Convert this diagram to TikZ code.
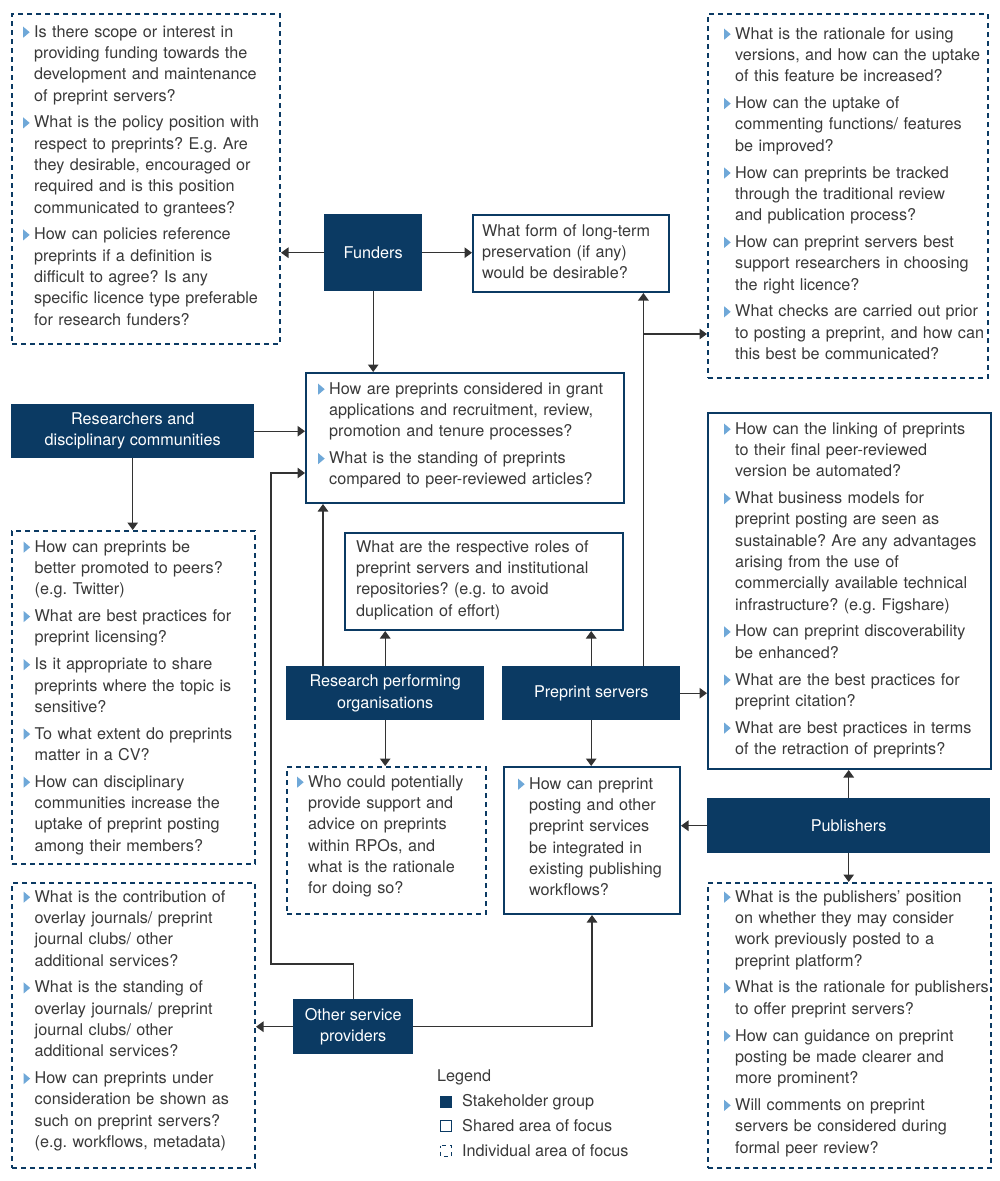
\documentclass[tikz,border=0pt]{standalone}
\usepackage{fontspec}
\setmainfont{TeX Gyre Heros}
\usetikzlibrary{arrows.meta,calc}
\definecolor{navy}{HTML}{0B3A63}
\definecolor{bul}{HTML}{6FA8D8}
\definecolor{txt}{HTML}{3A3A3A}
\definecolor{conn}{HTML}{333333}
\newcommand\qfont{\fontsize{16.2}{21.3}\selectfont\frenchspacing}
\newcommand\bu{\noindent\hspace*{-11pt}\makebox[11pt][l]{\tikz[baseline=0pt]\fill[bul] (0pt,-0.5pt)--(0pt,10.5pt)--(6.5pt,5pt)--cycle;}\rule{0pt}{13pt}}
\newcommand\bj{\par\vspace{5.5pt}\bu}
\tikzset{
  stake/.style={fill=navy, draw=none, text=white, font=\qfont, align=center, inner sep=0pt, anchor=north west},
  sbox/.style={draw=navy, line width=2pt, fill=white, inner sep=0pt, anchor=north west},
  dbox/.style={draw=navy, line width=2pt, dash pattern=on 5pt off 4pt, inner sep=0pt, anchor=north west},
  qt/.style={anchor=north west, inner sep=0pt, text width=330pt, align=left, font=\qfont, text=txt},
  arr/.style={draw=conn, line width=1.3pt, -{Triangle[length=7.5pt,width=10.5pt]}},
}
\begin{document}
\begin{tikzpicture}[x=1pt,y=-1pt]
\useasboundingbox[fill=white] (0,0) rectangle (1000,1181);

% ---------- frames ----------
\node[dbox, minimum width=268, minimum height=330] (fq) at (11,13) {};
\node[dbox, minimum width=280, minimum height=364] (tr) at (707,13) {};
\node[sbox, minimum width=196, minimum height=77] (pres) at (472,214) {};
\node[sbox, minimum width=318, minimum height=130] (grant) at (305,372) {};
\node[dbox, minimum width=243, minimum height=333] (rq) at (11,530) {};
\node[sbox, minimum width=278, minimum height=97] (roles) at (344,532) {};
\node[sbox, minimum width=283, minimum height=356] (link) at (707,412) {};
\node[dbox, minimum width=199, minimum height=147] (rpoq) at (286,766) {};
\node[sbox, minimum width=176, minimum height=147] (integ) at (503,766) {};
\node[dbox, minimum width=283, minimum height=285] (pq) at (707,882) {};
\node[dbox, minimum width=243, minimum height=285] (oq) at (11,882) {};

% ---------- stakeholder groups ----------
\node[stake, minimum width=98, minimum height=77] (fund) at (324,214) {Funders};
\node[stake, minimum width=243, minimum height=54] (res) at (11,404) {Researchers and\\disciplinary communities};
\node[stake, minimum width=198, minimum height=54] (rpo) at (286,666) {Research performing\\organisations};
\node[stake, minimum width=178, minimum height=54] (ps) at (502,666) {Preprint servers};
\node[stake, minimum width=283, minimum height=55] (pub) at (707,798) {Publishers};
\node[stake, minimum width=120, minimum height=55] (osp) at (293,999) {Other service\\providers};

% ---------- texts ----------
\node[qt] (fqt) at (24,24) {\leftskip=10pt
\bu Is there scope or interest in\\ providing funding towards the\\ development and maintenance\\ of preprint servers?
\bj What is the policy position with\\ respect to preprints? E.g. Are\\ they desirable, encouraged or\\ required and is this position\\ communicated to grantees?
\bj How can policies reference\\ preprints if a definition is\\ difficult to agree? Is any\\ specific licence type preferable\\ for research funders?\par};

\node[qt] (trt) at (725,26) {\leftskip=10pt
\bu What is the rationale for using\\ versions, and how can the uptake\\ of this feature be increased?
\bj How can the uptake of\\ commenting functions/ features\\ be improved?
\bj How can preprints be tracked\\ through the traditional review\\ and publication process?
\bj How can preprint servers best\\ support researchers in choosing\\ the right licence?
\bj What checks are carried out prior\\ to posting a preprint, and how can\\ this best be communicated?\par};

\node[qt] (prest) at (482,223) {\rule{0pt}{13pt}What form of long-term\\ preservation (if any)\\ would be desirable?\par};

\node[qt] (grantt) at (319,381) {\leftskip=10pt
\bu How are preprints considered in grant\\ applications and recruitment, review,\\ promotion and tenure processes?
\bj What is the standing of preprints\\ compared to peer-reviewed articles?\par};

\node[qt] (rqt) at (24.5,539) {\leftskip=10pt
\bu How can preprints be\\ better promoted to peers?\\ (e.g. Twitter)
\bj What are best practices for\\ preprint licensing?
\bj Is it appropriate to share\\ preprints where the topic is\\ sensitive?
\bj To what extent do preprints\\ matter in a CV?
\bj How can disciplinary\\ communities increase the\\ uptake of preprint posting\\ among their members?\par};

\node[qt] (rolest) at (356,539) {\rule{0pt}{13pt}What are the respective roles of\\ preprint servers and institutional\\ repositories? (e.g. to avoid\\ duplication of effort)\par};

\node[qt] (linkt) at (725,421) {\leftskip=10pt
\bu How can the linking of preprints\\ to their final peer-reviewed\\ version be automated?
\bj What business models for\\ preprint posting are seen as\\ sustainable? Are any advantages\\ arising from the use of\\ commercially available technical\\ infrastructure? (e.g. Figshare)
\bj How can preprint discoverability\\ be enhanced?
\bj What are the best practices for\\ preprint citation?
\bj What are best practices in terms\\ of the retraction of preprints?\par};

\node[qt] (rpoqt) at (298,774) {\leftskip=10pt
\bu Who could potentially\\ provide support and\\ advice on preprints\\ within RPOs, and\\ what is the rationale\\ for doing so?\par};

\node[qt] (integt) at (519,776) {\leftskip=10pt
\bu How can preprint\\ posting and other\\ preprint services\\ be integrated in\\ existing publishing\\ workflows?\par};

\node[qt] (pqt) at (725,889) {\leftskip=10pt
\bu What is the publishers' position\\ on whether they may consider\\ work previously posted to a\\ preprint platform?
\bj What is the rationale for publishers\\ to offer preprint servers?
\bj How can guidance on preprint\\ posting be made clearer and\\ more prominent?
\bj Will comments on preprint\\ servers be considered during\\ formal peer review?\par};

\node[qt] (oqt) at (24.5,889) {\leftskip=10pt
\bu What is the contribution of\\ overlay journals/ preprint\\ journal clubs/ other\\ additional services?
\bj What is the standing of\\ overlay journals/ preprint\\ journal clubs/ other\\ additional services?
\bj How can preprints under\\ consideration be shown as\\ such on preprint servers?\\ (e.g. workflows, metadata)\par};

% ---------- connectors ----------
\draw[arr] (fund.west) -- (fund.west -| fq.east);
\draw[arr] (fund.east) -- (fund.east -| pres.west);
\draw[arr] (fund.south) -- (fund.south |- grant.north);
\draw[arr] (res.east) -- (res.east -| grant.west);
\draw[arr] (res.south) -- (res.south |- rq.north);
\coordinate (ospk) at (271,964);
\draw[arr] (osp.north) |- (ospk) |- ([yshift=-35pt]grant.west);
\draw[arr] (osp.west) -- (osp.west -| oq.east);
\draw[arr] (osp.east) -| (integ.south);
\draw[arr] ([xshift=37pt]rpo.north west) -- ([xshift=37pt]rpo.north west |- grant.south);
\draw[arr] (rpo.north) -- (rpo.north |- roles.south);
\draw[arr] (rpo.south) -- (rpo.south |- rpoq.north);
\draw[arr] (ps.north) -- (ps.north |- roles.south);
\draw[arr] (ps.south) -- (ps.south |- integ.north);
\draw[arr] (ps.east) -- (ps.east -| link.west);
\draw[arr] ([xshift=-37pt]ps.north east) -- ([xshift=-37pt]ps.north east |- pres.south);
\coordinate (br) at (643,334);
\draw[arr] (br) -- (br -| tr.west);
\draw[arr] (pub.west) -- (pub.west -| integ.east);
\draw[arr] (pub.north) -- (pub.north |- link.south);
\draw[arr] (pub.south) -- (pub.south |- pq.north);

% ---------- legend ----------
\node[anchor=west, inner sep=0pt, font=\qfont, text=txt] (legt) at (437,1077) {Legend};
\fill[navy] (440,1096) rectangle (452,1108);
\node[anchor=west, inner sep=0pt, font=\qfont, text=txt] (leg1) at (462,1102) {Stakeholder group};
\draw[navy, line width=1.3pt] (440.6,1120.6) rectangle (451.4,1131.4);
\node[anchor=west, inner sep=0pt, font=\qfont, text=txt] (leg2) at (462,1126) {Shared area of focus};
\draw[navy, line width=1.5pt, dash pattern=on 4pt off 4pt, dash phase=2pt] (440.6,1145.6) rectangle (451.4,1156.4);
\node[anchor=west, inner sep=0pt, font=\qfont, text=txt] (leg3) at (462,1151) {Individual area of focus};
\end{tikzpicture}
\end{document}
